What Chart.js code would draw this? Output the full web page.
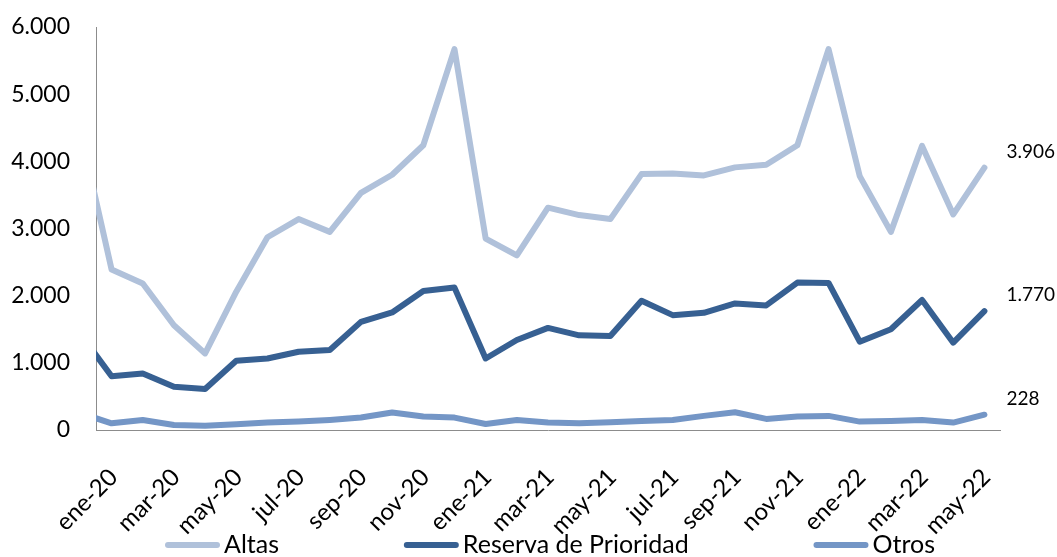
<!DOCTYPE html>
<html lang="es">
<head>
<meta charset="UTF-8">
<title>Altas, Reserva de Prioridad y Otros</title>
<script src="https://cdn.jsdelivr.net/npm/chart.js"></script>
<style>
  body { margin: 0; background: #fff; }
  #chart { display: block; }
</style>
</head>
<body>
<canvas id="chart" width="1057" height="557"></canvas>
<script>
// dic-19 sits just left of the axis: the line comes in clipped, as in the original
const months = ['dic-19',
  'ene-20','feb-20','mar-20','abr-20','may-20','jun-20','jul-20','ago-20','sep-20','oct-20','nov-20','dic-20',
  'ene-21','feb-21','mar-21','abr-21','may-21','jun-21','jul-21','ago-21','sep-21','oct-21','nov-21','dic-21',
  'ene-22','feb-22','mar-22','abr-22','may-22'];
const altas = [4450,
  2390, 2180, 1560, 1140, 2060, 2870, 3140, 2950, 3530, 3800, 4240, 5670,
  2850, 2600, 3310, 3200, 3140, 3810, 3820, 3790, 3910, 3950, 4240, 5670,
  3780, 2950, 4230, 3210, 3906];
const reserva = [1430,
  800, 840, 645, 610, 1030, 1065, 1165, 1190, 1610, 1750, 2070, 2120,
  1065, 1340, 1520, 1410, 1400, 1925, 1710, 1745, 1885, 1855, 2195, 2190,
  1315, 1500, 1935, 1300, 1770];
const otros = [250,
  100, 150, 75, 65, 85, 110, 125, 150, 185, 260, 200, 185,
  90, 150, 110, 100, 115, 135, 150, 210, 265, 165, 200, 210,
  125, 135, 150, 110, 228];
const seriesNames = ['Altas', 'Reserva de Prioridad', 'Otros'];
const seriesColors = ['#b0c1da', '#376092', '#7496c6'];
const yMax = 6000;
const yStep = 1000;

const FONT = "Lato, 'Noto Sans', sans-serif";
const fmt = v => String(Math.round(v)).replace(/\B(?=(\d{3})+(?!\d))/g, '.');
const toPoints = arr => arr.map((v, i) => ({ x: i, y: v }));

// etiqueta con el ultimo valor a la derecha de cada serie
const endLabels = {
  id: 'endLabels',
  afterDatasetsDraw(chart) {
    const { ctx, scales: { x, y } } = chart;
    ctx.save();
    ctx.font = '19px ' + FONT;
    ctx.fillStyle = '#000';
    ctx.textAlign = 'left';
    ctx.textBaseline = 'middle';
    chart.data.datasets.forEach(ds => {
      const last = ds.data[ds.data.length - 1];
      ctx.fillText(fmt(last.y), x.getPixelForValue(last.x) + 22, y.getPixelForValue(last.y) - 16);
    });
    ctx.restore();
  }
};

// leyenda inferior con trazo de linea, repartida como en Excel
const lineLegend = {
  id: 'lineLegend',
  afterDraw(chart) {
    const { ctx } = chart;
    const sw = 55, gapText = 4, left = 165, right = 935, cy = 545;
    ctx.save();
    ctx.font = '25px ' + FONT;
    const widths = chart.data.datasets.map(ds => sw + gapText + ctx.measureText(ds.label).width);
    const gap = (right - left - widths.reduce((a, b) => a + b, 0)) / (widths.length - 1);
    let cx = left;
    chart.data.datasets.forEach((ds, i) => {
      ctx.strokeStyle = ds.borderColor;
      ctx.lineWidth = 6;
      ctx.lineCap = 'round';
      ctx.beginPath();
      ctx.moveTo(cx + 3, cy);
      ctx.lineTo(cx + sw - 3, cy);
      ctx.stroke();
      ctx.fillStyle = '#000';
      ctx.textBaseline = 'middle';
      ctx.fillText(ds.label, cx + sw + gapText, cy);
      cx += widths[i] + gap;
    });
    ctx.restore();
  }
};

const datasets = [altas, reserva, otros].map((arr, i) => ({
  label: seriesNames[i],
  data: toPoints(arr),
  borderColor: seriesColors[i],
  backgroundColor: seriesColors[i],
  borderWidth: 6,
  borderCapStyle: 'round',
  borderJoinStyle: 'round',
  pointRadius: 0,
  tension: 0,
  clip: { left: 0, top: 10, right: 10, bottom: 10 }
}));

new Chart(document.getElementById('chart'), {
  type: 'line',
  data: { datasets },
  options: {
    responsive: false,
    animation: false,
    layout: { padding: { top: 27, right: 57, left: 0, bottom: 0 } },
    plugins: {
      legend: { display: false },
      tooltip: { enabled: false }
    },
    scales: {
      x: {
        type: 'linear',
        min: 0.5,
        max: months.length - 0.5,
        afterBuildTicks: axis => {
          axis.ticks = months.map((m, i) => i).filter(i => i % 2 === 1).map(i => ({ value: i }));
        },
        afterFit: axis => { axis.height = 127; },
        grid: { display: false, drawTicks: false },
        border: { display: true, color: '#8c8c8c', width: 1 },
        ticks: {
          autoSkip: false,
          minRotation: 45,
          maxRotation: 45,
          padding: 33,
          labelOffset: 2,
          color: '#000',
          font: { family: FONT, size: 24 },
          callback: v => months[v]
        }
      },
      y: {
        min: 0,
        max: yMax,
        afterFit: axis => { axis.width = 96; },
        // tick marks hidden but their length keeps the labels off the axis
        grid: { display: false, drawTicks: true, tickLength: 26 },
        border: { display: true, color: '#8c8c8c', width: 1 },
        ticks: {
          stepSize: yStep,
          padding: 0,
          color: '#000',
          font: { family: FONT, size: 23 },
          callback: v => fmt(v)
        }
      }
    }
  },
  plugins: [endLabels, lineLegend]
});
</script>
</body>
</html>
